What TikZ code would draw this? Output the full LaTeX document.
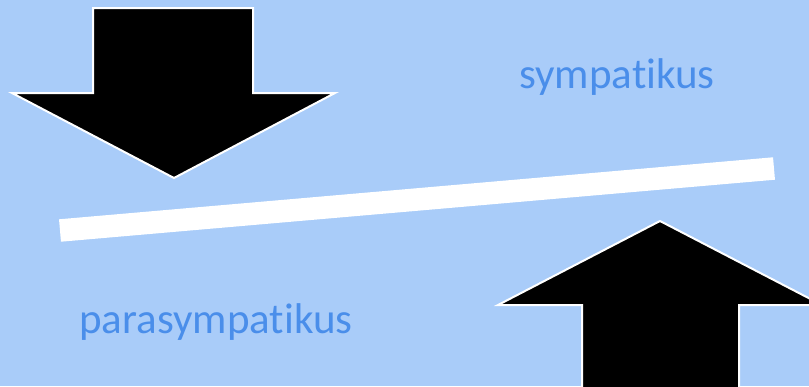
\documentclass[tikz,border=0pt]{standalone}
\usepackage{fontspec}
\setmainfont[Ligatures={NoCommon}]{Carlito}
\definecolor{bgblue}{RGB}{169,204,249}
\definecolor{txtblue}{RGB}{74,142,234}
\begin{document}
\begin{tikzpicture}[x=1pt,y=-1pt,
  bigarrow/.style={fill=black,draw=white,line width=2pt,line join=miter},
  label/.style={text=txtblue,font=\fontsize{43}{48}\selectfont,anchor=base,inner sep=0pt}]
\fill[bgblue] (0,0) rectangle (809,386);
\useasboundingbox (0,0) rectangle (809,386);
% down arrow
\draw[bigarrow] (93,8) -- (253,8) -- (253,93) -- (335,93) -- (174,178) -- (12,93) -- (93,93) -- cycle;
% up arrow
\begin{scope}
\clip (0,0) rectangle (809,386);
\draw[bigarrow] (582,400) -- (582,305) -- (498,305) -- (660,221) -- (822,305) -- (739,305) -- (739,400) -- cycle;
\end{scope}
% bar
\coordinate (bl) at (60,230.5);
\coordinate (br) at (774,168.5);
\draw[white,line width=22.5pt] (bl) -- (br);
% labels
\node[label] (symp) at (617,88) {sympatikus};
\node[label] (para) at (216,333) {parasympatikus};
\end{tikzpicture}
\end{document}
